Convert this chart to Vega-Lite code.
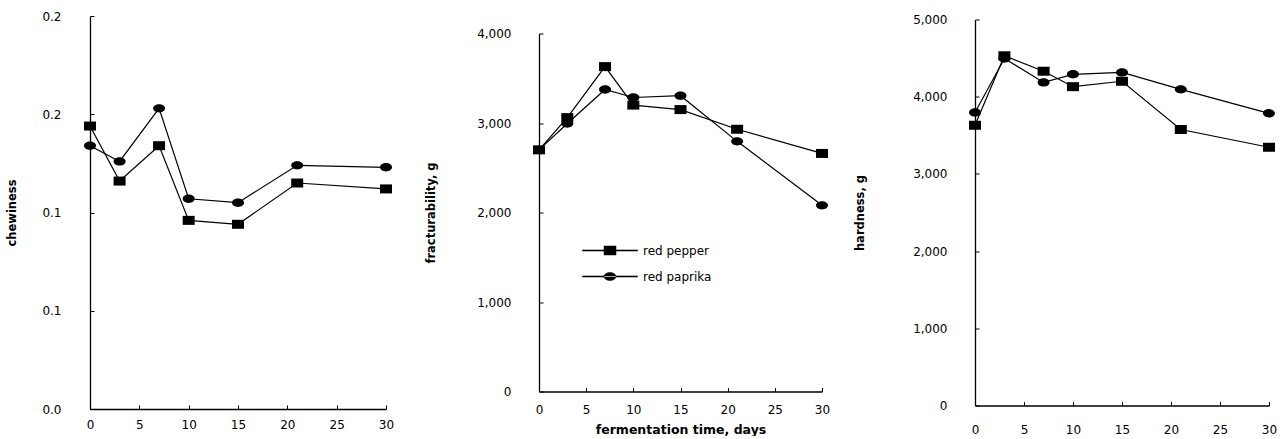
{
  "$schema": "https://vega.github.io/schema/vega-lite/v6.json",
  "padding": {"left": 6, "top": 10, "right": 0, "bottom": 0},
  "background": "white",
  "bounds": "flush",
  "center": true,
  "spacing": 153,
  "config": {
    "view": {"stroke": null},
    "axis": {
      "grid": false,
      "domainColor": "black",
      "domainWidth": 1.3,
      "tickColor": "black",
      "tickSize": -4,
      "labelColor": "black",
      "labelFont": "DejaVu Sans",
      "labelFontSize": 12,
      "titleColor": "black",
      "titleFont": "DejaVu Sans",
      "titleFontWeight": "bold",
      "titleFontSize": 11.5
    }
  },
  "resolve": {"scale": {"color": "independent"}, "legend": {"color": "independent"}},
  "datasets": {
    "tex": [
      {"day": 0, "series": "red pepper", "chewiness": 0.144, "fracturability": 2700, "hardness": 3630},
      {"day": 3, "series": "red pepper", "chewiness": 0.116, "fracturability": 3060, "hardness": 4530},
      {"day": 7, "series": "red pepper", "chewiness": 0.134, "fracturability": 3630, "hardness": 4330},
      {"day": 10, "series": "red pepper", "chewiness": 0.096, "fracturability": 3200, "hardness": 4130},
      {"day": 15, "series": "red pepper", "chewiness": 0.094, "fracturability": 3150, "hardness": 4200},
      {"day": 21, "series": "red pepper", "chewiness": 0.115, "fracturability": 2930, "hardness": 3575},
      {"day": 30, "series": "red pepper", "chewiness": 0.112, "fracturability": 2660, "hardness": 3345},
      {"day": 0, "series": "red paprika", "chewiness": 0.134, "fracturability": 2700, "hardness": 3795},
      {"day": 3, "series": "red paprika", "chewiness": 0.126, "fracturability": 2995, "hardness": 4495},
      {"day": 7, "series": "red paprika", "chewiness": 0.153, "fracturability": 3375, "hardness": 4185},
      {"day": 10, "series": "red paprika", "chewiness": 0.107, "fracturability": 3285, "hardness": 4290},
      {"day": 15, "series": "red paprika", "chewiness": 0.105, "fracturability": 3305, "hardness": 4315},
      {"day": 21, "series": "red paprika", "chewiness": 0.124, "fracturability": 2795, "hardness": 4095},
      {"day": 30, "series": "red paprika", "chewiness": 0.123, "fracturability": 2080, "hardness": 3785}
    ]
  },
  "hconcat": [
    {
      "width": 296,
      "height": 393,
      "data": {"name": "tex"},
      "encoding": {
        "x": {"field": "day", "type": "quantitative", "scale": {"domain": [0, 30], "nice": false},
          "axis": {"values": [0, 5, 10, 15, 20, 25, 30], "title": null, "labelPadding": 14, "labelFlush": false}},
        "y": {"field": "chewiness", "type": "quantitative", "scale": {"domain": [0, 0.2], "nice": false},
          "axis": {"values": [0, 0.05, 0.1, 0.15, 0.2], "labelExpr": "datum.value < 0.01 ? '0.0' : datum.value < 0.12 ? '0.1' : '0.2'", "title": "chewiness", "titleX": -73, "labelPadding": 33, "labelFlush": false}}
      },
      "layer": [
        {"mark": {"type": "line", "color": "black", "strokeWidth": 1.2}, "encoding": {"detail": {"field": "series"}}},
        {"transform": [{"filter": "datum.series === 'red pepper'"}],
          "mark": {"type": "point", "filled": true, "color": "black", "opacity": 1, "size": 144, "shape": "M-1,-0.75L1,-0.75L1,0.75L-1,0.75Z"}, "encoding": {}},
        {"transform": [{"filter": "datum.series === 'red paprika'"}],
          "mark": {"type": "point", "filled": true, "color": "black", "opacity": 1, "size": 144, "shape": "M-1,0A1,0.7 0 1,0 1,0A1,0.7 0 1,0 -1,0Z"}, "encoding": {}}
      ]
    },
    {
      "width": 283,
      "height": 358,
      "data": {"name": "tex"},
      "encoding": {
        "x": {"field": "day", "type": "quantitative", "scale": {"domain": [0, 30], "nice": false},
          "axis": {"values": [0, 5, 10, 15, 20, 25, 30], "title": "fermentation time, days", "titleFontSize": 12.5, "titlePadding": 8, "labelPadding": 17, "labelFlush": false}},
        "y": {"field": "fracturability", "type": "quantitative", "scale": {"domain": [0, 4000], "nice": false},
          "axis": {"values": [0, 1000, 2000, 3000, 4000], "format": ",d", "title": "fracturability, g", "titleX": -103, "labelPadding": 32, "labelFlush": false}}
      },
      "layer": [
        {"mark": {"type": "line", "color": "black", "strokeWidth": 1.2},
          "encoding": {"color": {"field": "series", "type": "nominal",
            "scale": {"domain": ["red pepper", "red paprika"], "range": ["black", "black"]},
            "legend": {"title": null, "orient": "none", "legendX": 65, "legendY": 211, "symbolSize": 100, "labelOffset": 27,
              "labelFont": "DejaVu Sans", "labelFontSize": 12, "labelColor": "black", "rowPadding": 14, "padding": 0,
              "encode": {"symbols": {"update": {
                "shape": {"signal": "datum.value === 'red pepper' ? 'M-5.5,-0.12L5.5,-0.12L5.5,0.12L-5.5,0.12ZM-1.2,-0.9L1.2,-0.9L1.2,0.9L-1.2,0.9Z' : 'M-5.5,-0.12L5.5,-0.12L5.5,0.12L-5.5,0.12ZM-1.2,0A1.2,0.8 0 1,0 1.2,0A1.2,0.8 0 1,0 -1.2,0Z'"},
                "fill": {"value": "black"}, "stroke": {"value": "black"}, "strokeWidth": {"value": 0.5}, "opacity": {"value": 1}, "fillOpacity": {"value": 1}}}}}}}},
        {"transform": [{"filter": "datum.series === 'red pepper'"}],
          "mark": {"type": "point", "filled": true, "color": "black", "opacity": 1, "size": 144, "shape": "M-1,-0.75L1,-0.75L1,0.75L-1,0.75Z"}, "encoding": {}},
        {"transform": [{"filter": "datum.series === 'red paprika'"}],
          "mark": {"type": "point", "filled": true, "color": "black", "opacity": 1, "size": 144, "shape": "M-1,0A1,0.7 0 1,0 1,0A1,0.7 0 1,0 -1,0Z"}, "encoding": {}}
      ]
    },
    {
      "width": 294,
      "height": 386,
      "data": {"name": "tex"},
      "encoding": {
        "x": {"field": "day", "type": "quantitative", "scale": {"domain": [0, 30], "nice": false},
          "axis": {"values": [0, 5, 10, 15, 20, 25, 30], "title": null, "labelPadding": 23, "labelFlush": false}},
        "y": {"field": "hardness", "type": "quantitative", "scale": {"domain": [0, 5000], "nice": false},
          "axis": {"values": [0, 1000, 2000, 3000, 4000, 5000], "format": ",d", "title": "hardness, g", "titleX": -110, "labelPadding": 32, "labelFlush": false}}
      },
      "layer": [
        {"mark": {"type": "line", "color": "black", "strokeWidth": 1.2}, "encoding": {"detail": {"field": "series"}}},
        {"transform": [{"filter": "datum.series === 'red pepper'"}],
          "mark": {"type": "point", "filled": true, "color": "black", "opacity": 1, "size": 144, "shape": "M-1,-0.75L1,-0.75L1,0.75L-1,0.75Z"}, "encoding": {}},
        {"transform": [{"filter": "datum.series === 'red paprika'"}],
          "mark": {"type": "point", "filled": true, "color": "black", "opacity": 1, "size": 144, "shape": "M-1,0A1,0.7 0 1,0 1,0A1,0.7 0 1,0 -1,0Z"}, "encoding": {}}
      ]
    }
  ]
}
